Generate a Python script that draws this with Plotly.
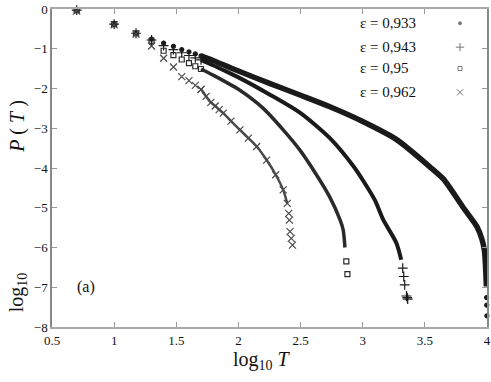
import plotly.graph_objects as go

# log10 T at T = 5, 10, ..., 50 (the sparse head of every curve)
head_x = [0.699, 1.0, 1.176, 1.301, 1.398, 1.477, 1.544, 1.602, 1.653, 1.699]

# eps = 0.933
a_head_y = [-0.03, -0.38, -0.61, -0.76, -0.86, -0.94, -1.02, -1.08, -1.13, -1.18]
a_body_x = [1.699, 1.8, 1.9, 2.0, 2.25, 2.5, 2.736, 3.0, 3.27, 3.54, 3.65, 3.81, 3.92, 3.96, 3.98, 3.99, 3.995]
a_body_y = [-1.18, -1.30, -1.43, -1.56, -1.87, -2.17, -2.46, -2.83, -3.28, -3.97, -4.28, -5.0, -5.48, -5.8, -6.1, -6.6, -6.98]
a_tail_x = [3.997, 3.998, 3.999]
a_tail_y = [-7.26, -7.45, -7.72]

# eps = 0.943
b_head_y = [-0.03, -0.38, -0.61, -0.78, -0.92, -1.02, -1.10, -1.17, -1.23, -1.28]
b_body_x = [1.699, 1.8, 1.9, 2.0, 2.25, 2.5, 2.736, 2.924, 3.004, 3.1, 3.165, 3.27, 3.31]
b_body_y = [-1.28, -1.42, -1.57, -1.72, -2.15, -2.62, -3.25, -3.95, -4.32, -4.82, -5.30, -5.88, -6.31]
b_tail_x = [3.322, 3.33, 3.338, 3.352, 3.358, 3.362]
b_tail_y = [-6.52, -6.73, -6.94, -7.22, -7.26, -7.30]

# eps = 0.95
c_head_y = [-0.03, -0.38, -0.61, -0.80, -1.05, -1.16, -1.27, -1.36, -1.44, -1.51]
c_body_x = [1.699, 1.8, 1.9, 2.0, 2.2, 2.36, 2.495, 2.576, 2.736, 2.817, 2.843, 2.857]
c_body_y = [-1.51, -1.67, -1.84, -2.02, -2.50, -3.04, -3.55, -3.92, -4.74, -5.30, -5.56, -6.0]
c_tail_x = [2.868, 2.877]
c_tail_y = [-6.35, -6.67]

# eps = 0.962
d_head_y = [-0.05, -0.40, -0.63, -0.93, -1.24, -1.46, -1.70, -1.80, -1.92, -2.02]
d_body_x = [1.699, 1.74, 1.778, 1.813, 1.845, 1.878, 1.94, 2.012, 2.08, 2.147, 2.227, 2.3, 2.36, 2.393]
d_body_y = [-2.02, -2.2, -2.35, -2.44, -2.53, -2.62, -2.82, -3.04, -3.25, -3.46, -3.80, -4.17, -4.55, -4.89]
d_tail_x = [2.405, 2.41, 2.415, 2.425, 2.435]
d_tail_y = [-5.14, -5.31, -5.60, -5.77, -5.94]

labels = ["ε = 0,933", "ε = 0,943", "ε = 0,95", "ε = 0,962"]
x_ticks = [0.5, 1, 1.5, 2, 2.5, 3, 3.5, 4]
y_ticks = [0, -1, -2, -3, -4, -5, -6, -7, -8]

SERIF = "Liberation Serif, Times New Roman, serif"
INK = "#1a1a1a"

series = [
    dict(hy=a_head_y, bx=a_body_x, by=a_body_y, tx=a_tail_x, ty=a_tail_y,
         sym="circle", size=4, lw=5.5, color=INK, body_marks=False),
    dict(hy=b_head_y, bx=b_body_x, by=b_body_y, tx=b_tail_x, ty=b_tail_y,
         sym="cross-thin", size=7, lw=4, color=INK, body_marks=False),
    dict(hy=c_head_y, bx=c_body_x, by=c_body_y, tx=c_tail_x, ty=c_tail_y,
         sym="square-open", size=5, lw=3.5, color="#2a2a2a", body_marks=False),
    dict(hy=d_head_y, bx=d_body_x, by=d_body_y, tx=d_tail_x, ty=d_tail_y,
         sym="x-thin", size=7, lw=2.5, color="#4a4a4a", body_marks=True),
]

fig = go.Figure()
for s in series:
    mk = dict(symbol=s["sym"], size=s["size"], color=s["color"],
              line=dict(color=s["color"], width=1.2))
    fig.add_trace(go.Scatter(x=head_x, y=s["hy"], mode="markers", marker=mk,
                             showlegend=False, hoverinfo="skip", cliponaxis=False))
    fig.add_trace(go.Scatter(x=s["bx"], y=s["by"],
                             mode="lines+markers" if s["body_marks"] else "lines",
                             line=dict(color=s["color"], width=s["lw"],
                                       shape="spline", smoothing=0.7),
                             marker=mk, showlegend=False, hoverinfo="skip"))
    fig.add_trace(go.Scatter(x=s["tx"], y=s["ty"], mode="markers", marker=mk,
                             showlegend=False, hoverinfo="skip", cliponaxis=False))

# legend: text on the left, sample on the right (gnuplot style), on an overlay axis
leg_y = [0.955, 0.88, 0.813, 0.738]
for i, s in enumerate(series):
    fig.add_trace(go.Scatter(
        x=[0.938], y=[leg_y[i]], xaxis="x2", yaxis="y2", mode="markers",
        marker=dict(symbol=s["sym"], size=s["size"] - 1, color="#777777",
                    line=dict(color="#777777", width=1)),
        showlegend=False, hoverinfo="skip"))
    fig.add_annotation(x=0.703, y=leg_y[i], xref="x2", yref="y2", text=labels[i],
                       showarrow=False, xanchor="left", yanchor="middle",
                       font=dict(family=SERIF, size=15, color="#111111"))

fig.add_annotation(x=0.77, y=-7.0, text="(a)", showarrow=False,
                   font=dict(family=SERIF, size=16, color="#111111"))

# axis titles
fig.add_annotation(x=0.483, y=-0.105, xref="paper", yref="paper",
                   text="log<sub>10</sub> <i>T</i>", showarrow=False,
                   xanchor="center", yanchor="middle",
                   font=dict(family=SERIF, size=20, color="#111111"))
fig.add_annotation(x=-0.08, y=0.11, xref="paper", yref="paper",
                   text="log<sub>10</sub>", showarrow=False, textangle=-90,
                   xanchor="center", yanchor="middle",
                   font=dict(family=SERIF, size=20, color="#111111"))
fig.add_annotation(x=-0.08, y=0.63, xref="paper", yref="paper",
                   text="<i>P</i> ( <i>T</i> )", showarrow=False, textangle=-90,
                   xanchor="center", yanchor="middle",
                   font=dict(family=SERIF, size=20, color="#111111"))

fig.update_layout(
    width=491, height=382,
    margin=dict(l=52, r=4, t=9, b=55),
    paper_bgcolor="white", plot_bgcolor="white",
    showlegend=False,
    font=dict(family=SERIF, size=13, color="#111111"),
    xaxis=dict(range=[0.5, 4], tickvals=x_ticks, ticks="inside", ticklen=5,
               tickcolor="#999999", showline=True, linecolor="#aaaaaa", linewidth=2,
               mirror="ticks", showgrid=False, zeroline=False, automargin=False,
               ticklabeloverflow="allow"),
    yaxis=dict(range=[-8, 0], tickvals=y_ticks, ticks="inside", ticklen=5,
               tickcolor="#999999", showline=True, linecolor="#888888", linewidth=1.5,
               mirror="ticks", showgrid=False, zeroline=False, automargin=False,
               ticklabeloverflow="allow"),
    xaxis2=dict(range=[0, 1], overlaying="x", visible=False),
    yaxis2=dict(range=[0, 1], overlaying="y", visible=False),
)

# drop the default page margin so the figure sits at the window's top-left corner
fig.write_html("out.html", config={"displayModeBar": False},
               post_script="document.body.style.margin='0';document.body.style.overflow='hidden';")
